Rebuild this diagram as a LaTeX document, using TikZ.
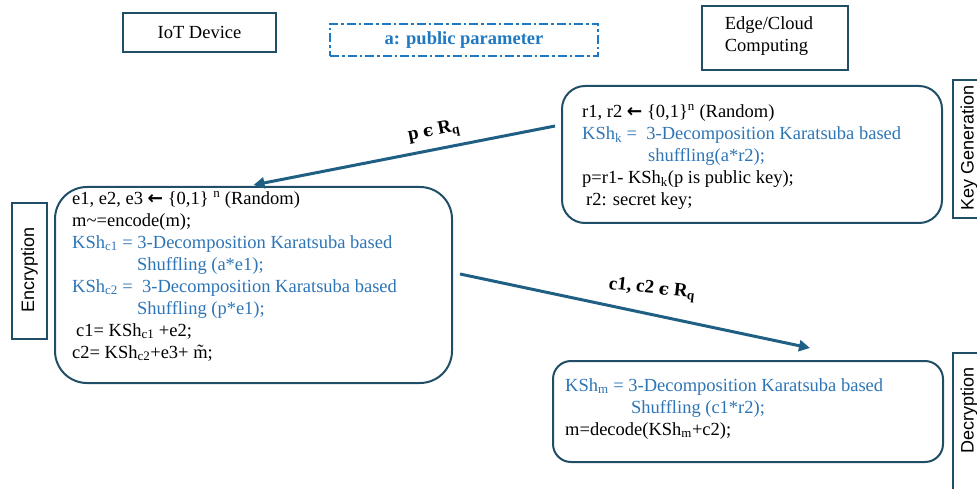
\documentclass[tikz,border=0pt]{standalone}
\usepackage{fontspec}
\setmainfont{Liberation Serif}
\setsansfont{Liberation Sans}
\newfontfamily\dvs{DejaVu Sans}
\newfontfamily\dvserif{DejaVu Serif}
\usepackage{amsmath}
\usetikzlibrary{arrows.meta}
\definecolor{boxc}{HTML}{1F4E66}
\definecolor{arrc}{HTML}{1F5F84}
\definecolor{bluet}{HTML}{2E75B6}
\definecolor{dashc}{HTML}{1E78C2}
\newcommand{\larr}{{\dvs\bfseries ←}}
\newcommand{\elem}{{\dvserif\bfseries\fontsize{17}{20}\selectfont ϵ}}
\begin{document}
\begin{tikzpicture}[x=1pt,y=-1pt,
  body/.style={font=\fontsize{18.5}{22}\selectfont, align=left, anchor=north west, inner sep=0pt},
  stagebox/.style={draw=boxc, line width=2pt},
  titlebox/.style={draw=boxc, line width=2.2pt, inner sep=0pt},
  sidebox/.style={draw=boxc, line width=1.6pt, inner sep=0pt},
  sidetxt/.style={font=\sffamily\fontsize{18}{20}\selectfont, rotate=90, inner sep=0pt},
  flow/.style={draw=arrc, line width=3pt, -{Triangle[width=11pt,length=11pt]}},
  flowlbl/.style={font=\bfseries\fontsize{19}{22}\selectfont, inner sep=0pt}
]
\useasboundingbox (0,0) rectangle (977,489);
\clip (0,0) rectangle (977,489);

% title boxes
\node[titlebox, minimum width=153pt, minimum height=39pt,
      font=\fontsize{18.5}{22}\selectfont] (iot) at (199.5,32.5) {IoT Device};
\node[draw=dashc, line width=2.4pt, dash pattern=on 9pt off 3pt on 2.5pt off 3pt,
      minimum width=268pt, minimum height=32pt, inner sep=0pt,
      font=\bfseries\fontsize{18.5}{22}\selectfont, text=dashc] (par) at (464,40) {a: public parameter};
\node[titlebox, minimum width=146pt, minimum height=64pt] (edge) at (775,38) {};
\node[font=\fontsize{18.5}{22}\selectfont, align=left, inner sep=0pt] (edget) at (769,36) {Edge/Cloud\\Computing};

% stage boxes
\node[stagebox, rounded corners=23pt, minimum width=380pt, minimum height=137pt] (kg) at (752,154.5) {};
\node[stagebox, rounded corners=32pt, minimum width=397pt, minimum height=196pt] (enc) at (253.5,285) {};
\node[stagebox, rounded corners=18pt, minimum width=390pt, minimum height=101pt] (dec) at (748,411.5) {};

% side labels
\node[sidebox, minimum width=37pt, minimum height=138pt] (kgb) at (971.5,149) {};
\node[sidetxt] (kgl) at (969,148) {Key Generation};
\node[sidebox, minimum width=35pt, minimum height=136pt] (encb) at (29.5,271) {};
\node[sidetxt] (encl) at (29.5,270) {Encryption};
\node[sidebox, minimum width=37pt, minimum height=150pt] (decb) at (971.5,428) {};
\node[sidetxt] (decl) at (969,410) {Decryption};

% box texts
\node[body] (kgt) at (582,104) {%
r1, r2 \larr{} \{0,1\}\textsuperscript{n} (Random)\\
\textcolor{bluet}{KSh\textsubscript{k} =~~3-Decomposition Karatsuba based}\\
\textcolor{bluet}{\hspace*{66pt}shuffling(a*r2);}\\
p=r1- KSh\textsubscript{k}(p is public key);\\
\hspace*{4pt}r2: secret key;};

\node[body] (enct) at (72,191) {%
e1, e2, e3 \larr{} \{0,1\} \textsuperscript{n} (Random)\\
m\textasciitilde=encode(m);\\
\textcolor{bluet}{KSh\textsubscript{c1} = 3-Decomposition Karatsuba based}\\
\textcolor{bluet}{\hspace*{65pt}Shuffling (a*e1);}\\
\textcolor{bluet}{KSh\textsubscript{c2} =~~3-Decomposition Karatsuba based}\\
\textcolor{bluet}{\hspace*{65pt}Shuffling (p*e1);}\\
\hspace*{4pt}c1= KSh\textsubscript{c1} +e2;\\
c2= KSh\textsubscript{c2}+e3+ \~{m};};

\node[body] (dect) at (565,378) {%
\textcolor{bluet}{KSh\textsubscript{m} = 3-Decomposition Karatsuba based}\\
\textcolor{bluet}{\hspace*{66pt}Shuffling (c1*r2);}\\
m=decode(KSh\textsubscript{m}+c2);};

% connectors
\draw[flow] ([xshift=-6pt,yshift=28.5pt]kg.west) -- ([yshift=1pt]enc.north);
\draw[flow] ([xshift=7pt,yshift=11pt]enc.east) -- ([xshift=62pt,yshift=12pt]dec.north);

\node[flowlbl, rotate=11] (l1) at (434,132) {p \elem{} R\textsubscript{q}};
\node[flowlbl, rotate=-6] (l2) at (652,290) {c1, c2 \elem{} R\textsubscript{q}};
\end{tikzpicture}
\end{document}
